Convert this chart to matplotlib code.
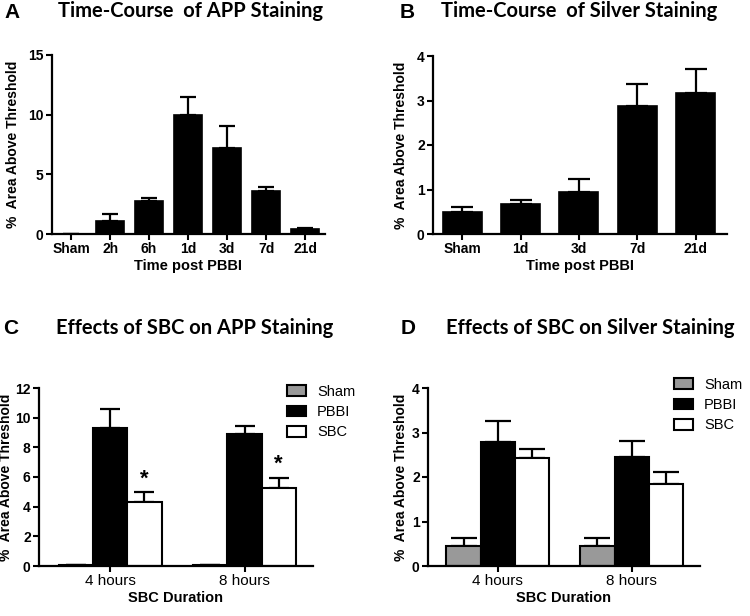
import matplotlib
matplotlib.use("Agg")
import matplotlib.pyplot as plt
from matplotlib.patches import Patch

# Panel A: APP staining time-course
app_times = ['Sham', '2h', '6h', '1d', '3d', '7d', '21d']
app_mean = [0.0, 1.1, 2.8, 9.95, 7.2, 3.6, 0.4]
app_top = [0.0, 1.65, 3.0, 11.5, 9.05, 3.95, 0.5]   # mean + SEM

# Panel B: silver staining time-course
silver_times = ['Sham', '1d', '3d', '7d', '21d']
silver_mean = [0.50, 0.67, 0.94, 2.87, 3.16]
silver_top = [0.61, 0.76, 1.23, 3.37, 3.71]

# Panels C and D: SBC treatment
durations = ['4 hours', '8 hours']
groups = ['Sham', 'PBBI', 'SBC']
group_colors = ['#999999', 'black', 'white']

sbc_app_mean = {'Sham': [0.05, 0.05], 'PBBI': [9.3, 8.92], 'SBC': [4.3, 5.29]}
sbc_app_top = {'Sham': [0.05, 0.05], 'PBBI': [10.58, 9.46], 'SBC': [4.98, 5.95]}
sbc_app_sig = ['*', '*']   # marks above SBC bars

sbc_silver_mean = {'Sham': [0.45, 0.45], 'PBBI': [2.78, 2.46], 'SBC': [2.42, 1.85]}
sbc_silver_top = {'Sham': [0.64, 0.64], 'PBBI': [3.25, 2.81], 'SBC': [2.62, 2.12]}

W, H = 750, 616
fig = plt.figure(figsize=(7.5, 6.16), dpi=100)
plt.rcParams['font.family'] = ['Liberation Sans', 'DejaVu Sans']


def px_axes(left, right, top, bottom):
    return fig.add_axes([left / W, 1 - bottom / H, (right - left) / W, (bottom - top) / H])


def style(ax, yticks, ylabel, xlabel, label_x, xtick_weight='bold', xtick_size=10):
    for s in ['top', 'right']:
        ax.spines[s].set_visible(False)
    for s in ['left', 'bottom']:
        ax.spines[s].set_linewidth(1.6)
    ax.set_ylim(0, yticks[-1])
    ax.set_yticks(yticks)
    ax.tick_params(direction='out', length=4, width=1.5, labelsize=10, pad=2)
    ax.tick_params(axis='x', labelsize=xtick_size)
    for lab in ax.get_yticklabels():
        lab.set_fontweight('bold')
    for lab in ax.get_xticklabels():
        lab.set_fontweight(xtick_weight)
    ax.set_ylabel(ylabel, fontsize=10, fontweight='bold')
    ax.yaxis.set_label_coords(label_x, 0.5)
    ax.set_xlabel(xlabel, fontsize=10.5, fontweight='bold', labelpad=2)


def simple_bars(ax, labels, mean, top, width, cap):
    x = list(range(len(labels)))
    ax.bar(x, mean, width=width, color='black', edgecolor='black', linewidth=1.2, zorder=2)
    up = [t - m for t, m in zip(top, mean)]
    ax.errorbar(x, mean, yerr=[[0] * len(x), up], fmt='none', ecolor='black',
                elinewidth=1.6, capsize=cap, capthick=1.6, zorder=1)
    ax.set_xticks(x)
    ax.set_xticklabels(labels)


def grouped_bars(ax, mean, top, width, cap):
    xs = list(range(len(durations)))
    for i, g in enumerate(groups):
        pos = [x + (i - 1) * width for x in xs]
        ax.bar(pos, mean[g], width=width, color=group_colors[i], edgecolor='black',
               linewidth=1.5, zorder=2)
        up = [t - m for t, m in zip(top[g], mean[g])]
        ax.errorbar(pos, mean[g], yerr=[[0] * len(xs), up], fmt='none', ecolor='black',
                    elinewidth=1.6, capsize=cap, capthick=1.6, zorder=1)
    ax.set_xticks(xs)
    ax.set_xticklabels(durations)
    return xs


def legend(ax, left, top):
    handles = [Patch(facecolor=c, edgecolor='black', linewidth=1.5) for c in group_colors]
    ax.legend(handles, groups, loc='upper left', bbox_to_anchor=(left / W, 1 - top / H),
              bbox_transform=fig.transFigure, frameon=False, fontsize=10.5,
              borderpad=0, borderaxespad=0, handlelength=1.3, handleheight=0.77,
              handletextpad=0.75, labelspacing=0.42)


ylab = '%  Area Above Threshold'

# A
axA = px_axes(52, 325, 55, 234)
simple_bars(axA, app_times, app_mean, app_top, 0.7, 5.5)
axA.set_xlim(-0.49, len(app_times) - 0.49)
style(axA, [0, 5, 10, 15], ylab, 'Time post PBBI', -0.117)

# B
axB = px_axes(433, 727, 56, 234)
simple_bars(axB, silver_times, silver_mean, silver_top, 0.67, 8)
axB.set_xlim(-0.5, len(silver_times) - 0.46)
style(axB, [0, 1, 2, 3, 4], ylab, 'Time post PBBI', -0.085)

# C
axC = px_axes(39, 313, 388, 566)
xs = grouped_bars(axC, sbc_app_mean, sbc_app_top, 0.255, 7.5)
axC.set_xlim(-0.53, 1.51)
style(axC, [0, 2, 4, 6, 8, 10, 12], ylab, 'SBC Duration', -0.095,
      xtick_weight='normal', xtick_size=11)
for x, t, s in zip(xs, sbc_app_top['SBC'], sbc_app_sig):
    axC.annotate(s, (x + 0.255, t), xytext=(0, 2), textcoords='offset points',
                 ha='center', va='bottom', fontsize=16, fontweight='bold')
legend(axC, 287, 385)

# D
axD = px_axes(428, 700, 388, 566)
grouped_bars(axD, sbc_silver_mean, sbc_silver_top, 0.255, 9.5)
axD.set_xlim(-0.52, 1.51)
style(axD, [0, 1, 2, 3, 4], ylab, 'SBC Duration', -0.074,
      xtick_weight='normal', xtick_size=11)
legend(axD, 674, 378)

# titles and panel letters
title_kw = dict(fontsize=14.5, fontweight='bold', family=['Lato', 'DejaVu Sans'],
                ha='center', va='center')
fig.text(191 / W, 1 - 11 / H, 'Time-Course  of APP Staining', **title_kw)
fig.text(579 / W, 1 - 11 / H, 'Time-Course  of Silver Staining', **title_kw)
fig.text(195 / W, 1 - 328 / H, 'Effects of SBC on APP Staining', **title_kw)
fig.text(590 / W, 1 - 328 / H, 'Effects of SBC on Silver Staining', **title_kw)

letter_kw = dict(fontsize=15, fontweight='bold', ha='left', va='center')
fig.text(4 / W, 1 - 13 / H, 'A', **letter_kw)
fig.text(400 / W, 1 - 13 / H, 'B', **letter_kw)
fig.text(3 / W, 1 - 328 / H, 'C', **letter_kw)
fig.text(401 / W, 1 - 328 / H, 'D', **letter_kw)

fig.savefig('out.png', dpi=100)
